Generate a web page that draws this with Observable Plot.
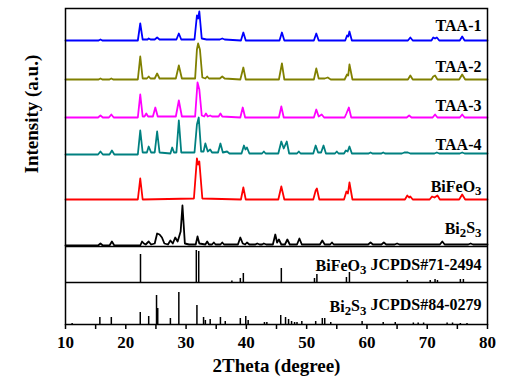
<!DOCTYPE html>
<html>
<head>
<meta charset="utf-8">
<script src="https://cdn.jsdelivr.net/npm/d3@7"></script>
<script src="https://cdn.jsdelivr.net/npm/@observablehq/plot@0.6"></script>
<style>
  html, body { margin: 0; padding: 0; background: #fff; }
  #chart svg { display: block; }
  #chart svg text { font-family: "Liberation Serif", "Times New Roman", serif; }
</style>
</head>
<body>
<div id="chart"></div>
<script>
// ---------- data (2θ in degrees, intensity in a.u. above each pattern's own baseline) ----------
const seriesNames = ["TAA-1", "TAA-2", "TAA-3", "TAA-4", "BiFeO_3", "Bi_2S_3"];
const seriesColors = ["#0000ff", "#808000", "#ff00ff", "#008080", "#ff0000", "#000000"];
const seriesBaselines = [284, 245, 207, 170, 125, 79];

const taa1 = [[10,0],[15.5,0],[15.8,1],[16.1,0],[22.0,0],[22.4,17],[22.8,1],[23.6,1],[23.8,2],[24.1,1],[24.8,1],[25.2,3],[25.6,1],[28.4,1],[28.8,7],[29.2,1],[31.4,1],[31.8,25],[32.0,22],[32.2,29],[32.6,2],[33.4,1],[34.0,1],[35.6,1],[36.0,2],[36.4,1],[39.1,0],[39.5,8],[39.9,0],[45.5,0],[45.9,8],[46.3,0],[51.2,0],[51.6,7],[52.0,0],[56.4,0],[56.7,5],[56.9,4],[57.1,9],[57.5,0],[66.8,0],[67.2,3],[67.6,0],[70.7,0],[71.0,3],[71.3,2],[71.6,3],[72.0,0],[75.4,0],[75.8,4],[76.2,0],[80,0]];
const taa2 = [[10,0],[15.5,0],[15.8,1],[16.1,0],[17.3,0],[17.6,1],[17.9,0],[22.0,0],[22.4,23],[22.8,1],[23.5,1],[23.8,3],[24.1,1],[24.8,1],[25.2,6],[25.6,1],[28.3,1],[28.8,14],[29.3,1],[31.5,1],[31.8,30],[32.0,36],[32.3,30],[32.7,2],[33.2,1],[33.5,3],[33.8,1],[35.6,1],[36.0,3],[36.4,1],[39.0,0],[39.5,12],[39.9,0],[45.4,0],[45.9,16],[46.3,0],[51.2,0],[51.6,11],[52.0,1],[53.0,1],[53.5,2],[54.0,0],[56.3,0],[56.7,5],[56.9,4],[57.1,15],[57.6,0],[66.8,0],[67.2,4],[67.6,0],[70.7,0],[71.0,3],[71.3,4],[71.7,0],[75.3,0],[75.8,5],[76.3,0],[80,0]];
const taa3 = [[10,0],[15.4,0],[15.8,2],[16.2,0],[17.2,0],[17.6,3],[18.0,0],[22.0,0],[22.4,23],[22.8,1],[23.1,1],[23.4,4],[23.7,1],[24.5,1],[24.9,10],[25.3,1],[28.3,1],[28.8,17],[29.3,1],[31.5,1],[31.9,35],[32.2,28],[32.6,2],[33.0,1],[33.3,4],[33.6,1],[34.0,2],[34.3,1],[35.4,1],[35.7,4],[36.0,1],[39.0,0],[39.4,10],[39.8,0],[45.4,0],[45.8,11],[46.2,0],[51.2,0],[51.6,8],[52.0,1],[52.5,3],[52.9,0],[56.3,0],[56.6,4],[57.0,10],[57.4,0],[66.6,0],[67.0,2],[67.4,0],[70.9,0],[71.3,3],[71.7,0],[75.4,0],[75.8,3],[76.2,0],[80,0]];
const taa4 = [[10,0],[15.4,0],[15.8,3],[16.2,0],[17.3,0],[17.7,4],[18.1,0],[22.0,0],[22.4,24],[22.8,2],[23.5,2],[23.8,8],[24.2,2],[24.8,2],[25.2,23],[25.6,2],[27.4,1],[27.7,7],[28.0,2],[28.4,2],[28.8,34],[29.2,2],[31.4,2],[31.8,30],[32.1,37],[32.5,3],[32.9,3],[33.2,11],[33.6,3],[34.0,5],[34.3,2],[35.3,2],[35.7,11],[36.1,2],[36.8,3],[37.2,1],[39.2,1],[39.6,9],[39.85,5],[40.1,7],[40.5,1],[42.6,1],[42.9,3],[43.2,1],[45.3,1],[45.8,13],[46.2,6],[46.7,13],[47.1,1],[48.4,1],[48.7,3],[49.0,1],[51.1,1],[51.5,9],[51.9,2],[52.4,2],[52.8,9],[53.2,1],[54.7,1],[55.0,3],[55.3,1],[56.2,1],[56.5,4],[56.8,3],[57.1,8],[57.5,1],[60.3,1],[60.6,2],[60.9,1],[62.4,1],[62.7,2],[63.0,1],[65.8,1],[66.2,2],[66.8,2],[67.2,1],[71.2,1],[71.6,2],[72.0,1],[75.4,1],[75.8,2],[76.2,1],[80,1]];
const bfo = [[10,0],[22.0,0],[22.4,21],[22.8,0],[31.3,1],[31.8,41],[32.0,35],[32.2,38],[32.7,1],[39.1,0],[39.5,12],[39.9,0],[45.3,0],[45.8,13],[46.3,0],[51.1,0],[51.5,9],[51.7,11],[52.1,0],[56.2,0],[56.6,8],[56.85,6],[57.1,17],[57.6,0],[66.3,0],[66.7,4],[67.0,2],[67.2,3],[67.6,0],[70.4,0],[70.8,3],[71.2,2],[71.7,4],[72.1,0],[75.3,0],[75.8,5],[76.3,0],[80,0]];
const bs = [[10,0],[15.4,0],[15.8,2],[16.2,0],[17.3,0],[17.7,4],[18.1,0],[22.4,0],[22.7,4],[23.0,2],[23.3,1],[23.8,4],[24.2,1],[24.8,2],[25.2,12],[25.6,11],[26.0,8],[26.4,2],[27.0,1],[27.4,5],[27.8,2],[28.2,8],[28.6,4],[29.1,14],[29.4,40],[29.8,2],[30.5,1],[31.6,1],[31.9,9],[32.2,2],[33.2,1],[33.5,4],[33.8,1],[34.3,1],[34.6,3],[34.9,1],[35.7,1],[36.0,3],[36.3,1],[38.6,1],[39.0,8],[39.4,2],[39.8,1],[40.1,3],[40.5,1],[41.5,1],[41.8,2],[42.2,1],[42.6,1],[42.9,2],[43.3,1],[44.4,1],[44.8,11],[45.1,3],[45.4,6],[45.8,1],[46.4,1],[46.8,6],[47.2,1],[48.4,1],[48.8,7],[49.2,1],[52.2,1],[52.6,5],[53.0,1],[53.9,1],[54.2,3],[54.5,1],[60.2,1],[60.6,3],[61.0,1],[62.4,1],[62.8,3],[63.2,1],[64.6,1],[65.0,2],[65.4,1],[72.1,1],[72.5,4],[72.9,1],[76.8,1],[77.2,2],[77.6,1],[80,1]];
const seriesPoints = [taa1, taa2, taa3, taa4, bfo, bs];

// reference patterns (stick positions and relative heights)
const refNames = ["BiFeO_3 JCPDS#71-2494", "Bi_2S_3 JCPDS#84-0279"];
const refBaselines = [42, 0];
const bfoRef = [[22.44,28],[31.7,32],[32.1,31],[37.6,1.5],[39.0,4],[39.5,9],[45.8,14],[51.3,4],[51.7,8],[56.6,5],[57.1,10],[66.7,2],[70.5,2],[71.3,3],[71.7,2],[75.5,3],[76.0,3]];
const bsRef = [[11.1,1],[15.7,7],[17.6,7],[22.4,12],[23.8,8],[25.1,29],[25.3,16],[27.4,6],[28.8,32],[31.8,19],[32.9,7],[33.2,4],[34.0,5],[35.7,7],[36.5,3],[39.0,6],[39.9,8],[40.3,4],[43.0,2],[43.4,2],[45.7,9],[46.5,7],[47.0,5],[47.5,3],[48.0,2],[48.4,2],[49.2,3],[51.5,3],[52.6,6],[53.0,6],[54.0,2],[59.2,3],[62.7,2],[64.7,2],[67.7,1.5],[68.5,1.5],[69.4,1.5],[73.3,1.5],[74.2,1.5],[75.5,1],[76.6,1]];
const refSticks = [bfoRef, bsRef];

const panelBounds = [42, 78];
const labelNames = ["TAA-1", "TAA-2", "TAA-3", "TAA-4", "BiFeO_3", "Bi_2S_3", "BiFeO_3 JCPDS#71-2494", "Bi_2S_3 JCPDS#84-0279"];
const labelY = [299, 258, 219, 180, 138, 96, 59, 18];
const xTicks = [10, 20, 30, 40, 50, 60, 70, 80];
const xMinorTicks = [15, 25, 35, 45, 55, 65, 75];
const xTitle = "2Theta (degree)";
const yTitle = "Intensity (a.u.)";

// ---------- build tables ----------
const lineRows = seriesNames.flatMap((name, i) =>
  seriesPoints[i].map(([t, v]) => ({theta: t, y: seriesBaselines[i] + v, name})));
const stickRows = refNames.flatMap((name, i) =>
  refSticks[i].map(([t, v]) => ({theta: t, y1: refBaselines[i], y2: refBaselines[i] + v, name})));
const labelRows = labelNames.map((name, i) => ({name, y: labelY[i]}));

const font = "Liberation Serif";

const chart = Plot.plot({
  width: 510,
  height: 387,
  marginLeft: 65,
  marginRight: 23,
  marginTop: 8,
  marginBottom: 63,
  style: {fontFamily: font, color: "#000", background: "#fff"},
  x: {domain: [10, 80]},
  y: {domain: [0, 316], axis: null},
  color: {type: "ordinal", domain: seriesNames, range: seriesColors},
  marks: [
    Plot.ruleY(panelBounds, {stroke: "#000", strokeWidth: 1.5}),
    Plot.ruleX(stickRows, {x: "theta", y1: "y1", y2: "y2", stroke: "#000", strokeWidth: 1.5}),
    Plot.line(lineRows, {x: "theta", y: "y", z: "name", stroke: "name", strokeWidth: 1.8, strokeLinejoin: "round"}),
    Plot.text(labelRows, {x: () => 80, y: "y", text: "name", textAnchor: "end", dx: -6,
      fontFamily: font, fontSize: 16, fontWeight: "bold", fill: "#000", className: "lbl"}),
    Plot.axisX(xMinorTicks, {tickSize: 5, tickFormat: () => "", strokeWidth: 1.5, label: null}),
    Plot.axisX(xTicks, {tickSize: 5, tickPadding: 6, fontFamily: font, fontSize: 17, fontWeight: "bold",
      strokeWidth: 1.5, label: null}),
    Plot.text([xTitle], {frameAnchor: "bottom", dy: 47, fontFamily: font, fontSize: 19, fontWeight: "bold", fill: "#000"}),
    Plot.text([yTitle], {frameAnchor: "left", dx: -33.5, dy: 7, rotate: -90, fontFamily: font, fontSize: 19,
      fontWeight: "bold", fill: "#000"}),
    Plot.frame({stroke: "#000", strokeWidth: 1.5})
  ]
});

// turn "_3" markers into real subscripts
chart.querySelectorAll(".lbl text").forEach(t => {
  const s = t.textContent;
  if (!s.includes("_")) return;
  t.textContent = "";
  const parts = s.split(/_(\d)/);
  parts.forEach((p, k) => {
    if (!p) return;
    const ts = document.createElementNS("http://www.w3.org/2000/svg", "tspan");
    ts.textContent = p;
    if (k % 2 === 1) {
      ts.setAttribute("dy", "0.3em");
      ts.setAttribute("font-size", "0.8em");
    } else if (k > 0) {
      ts.setAttribute("dy", "-0.3em");
    }
    t.appendChild(ts);
  });
});

document.getElementById("chart").appendChild(chart);
</script>
</body>
</html>
